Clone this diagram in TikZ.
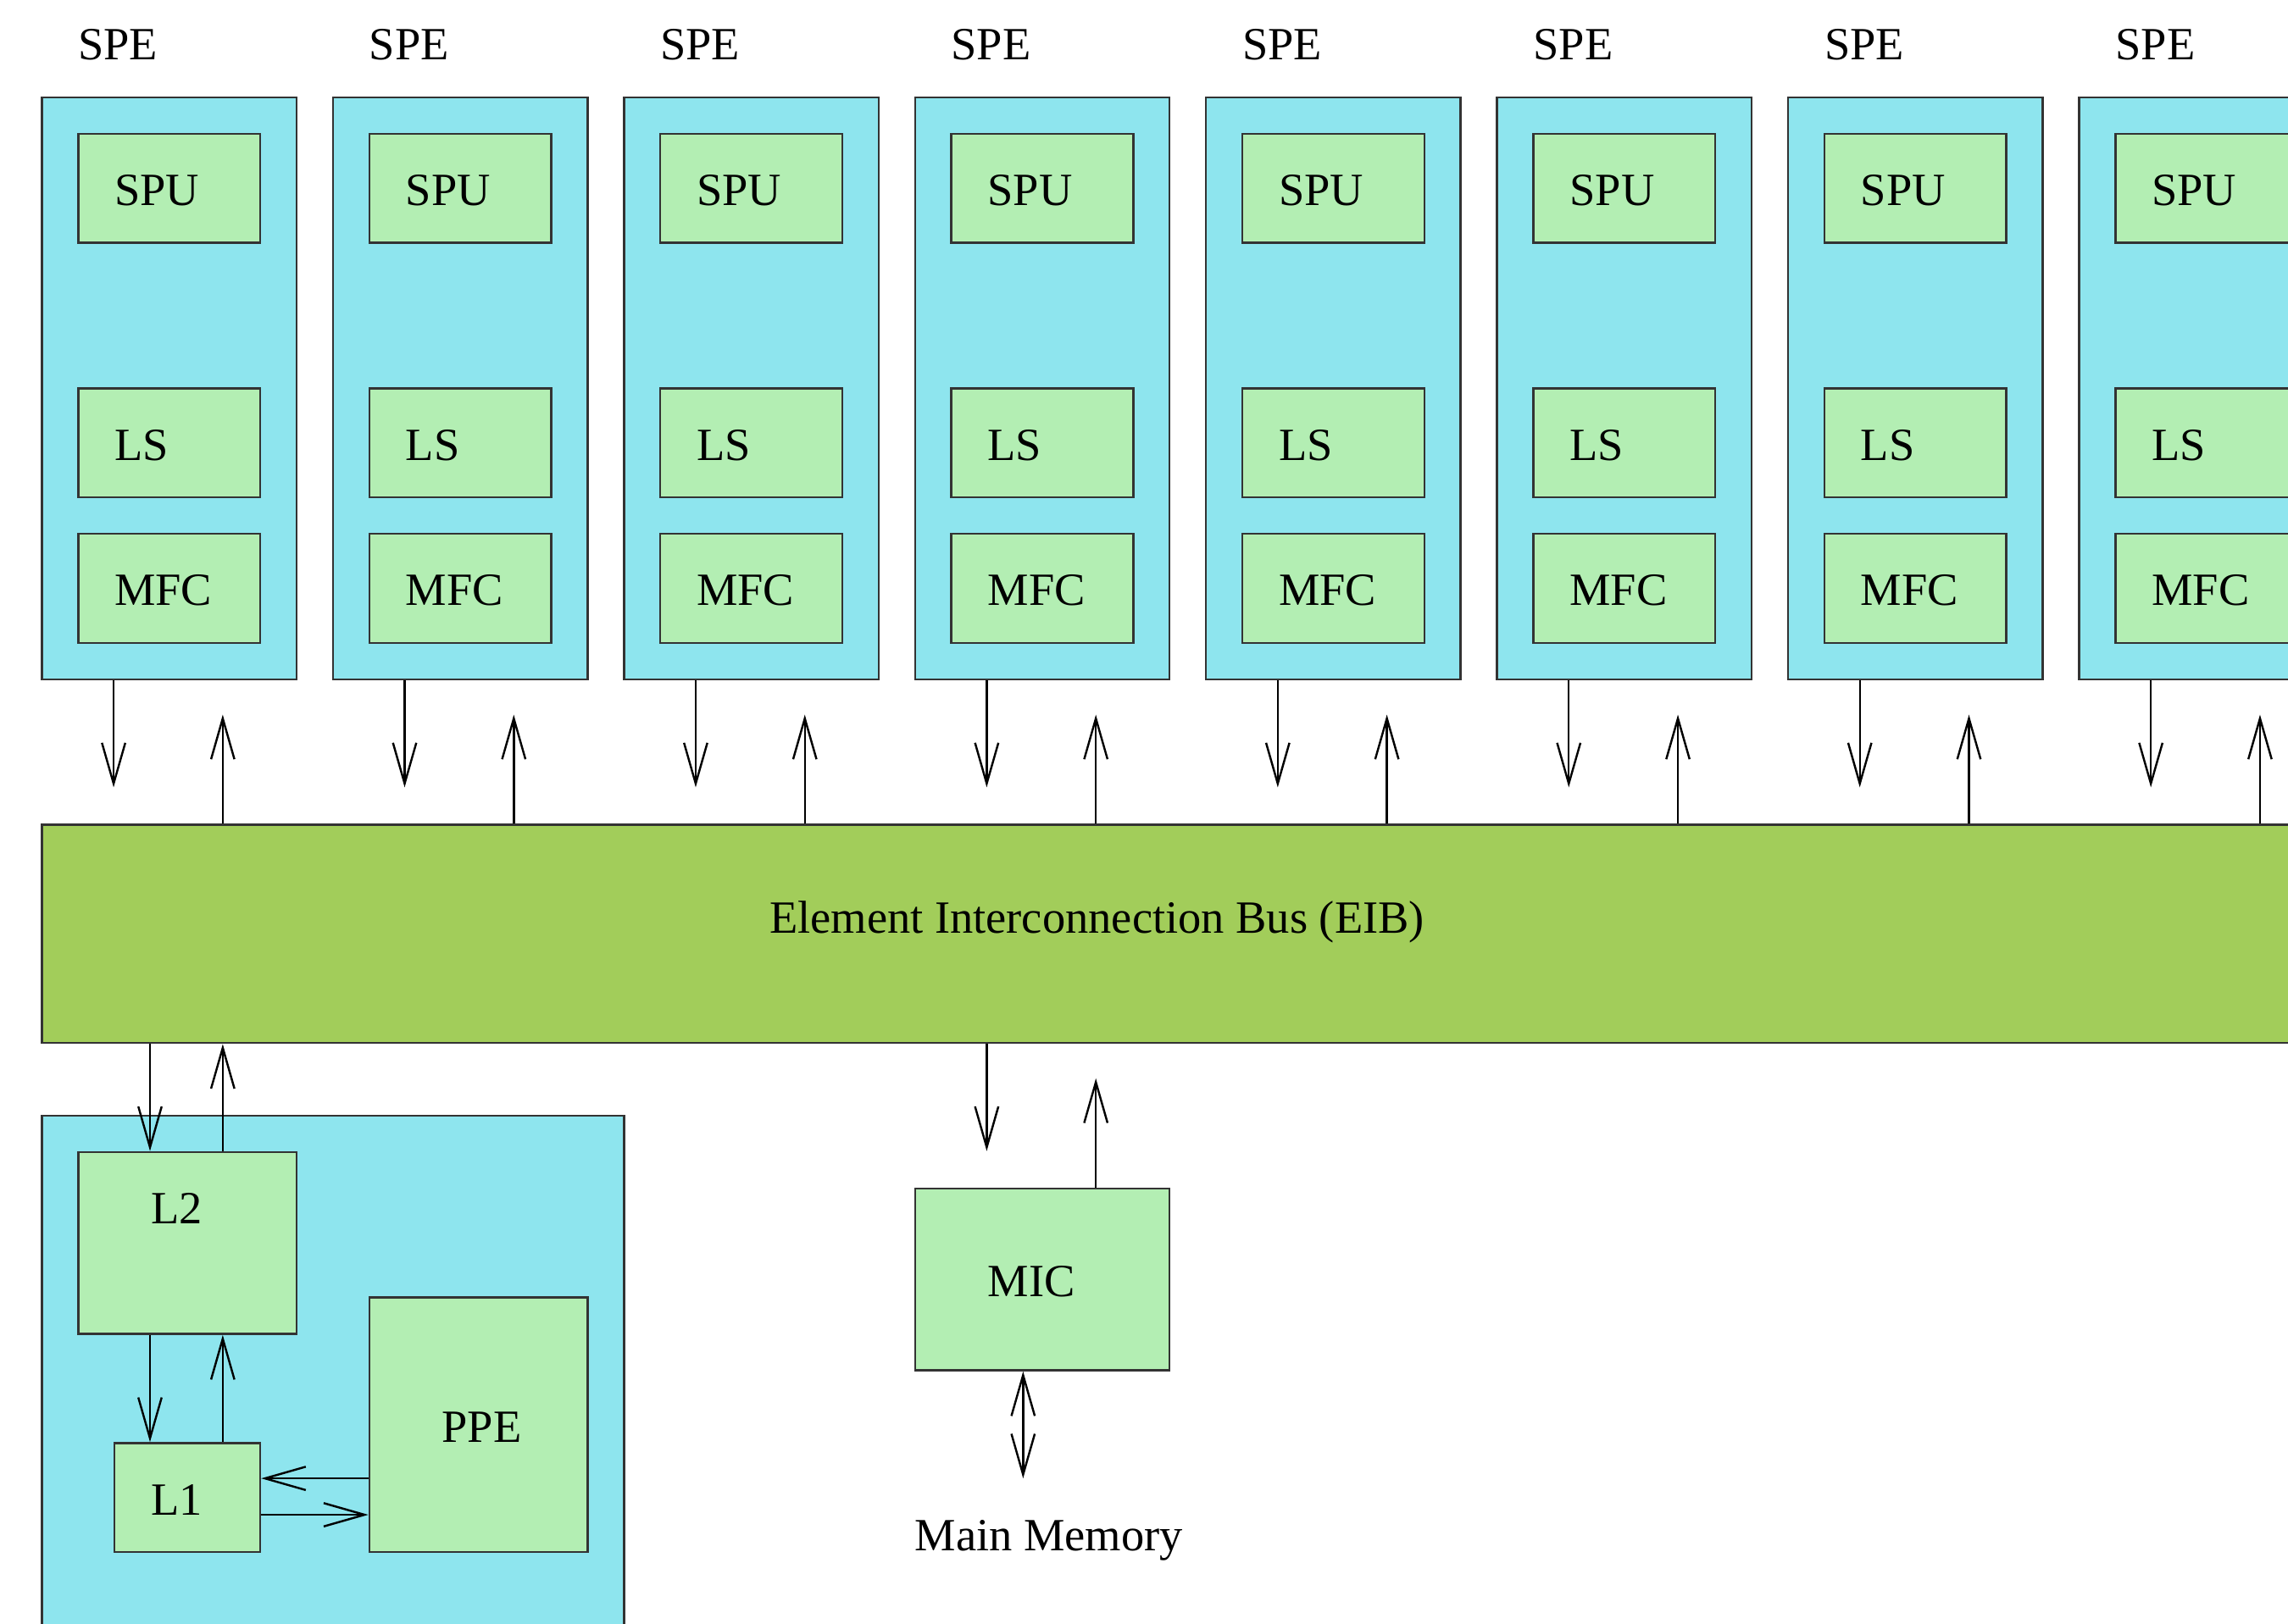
\documentclass[tikz,border=0pt]{standalone}
\usepackage{fontspec}
\setmainfont{Liberation Serif}
\usetikzlibrary{arrows.meta}
\definecolor{speblue}{HTML}{8EE5EE}
\definecolor{unitgreen}{HTML}{B3EEB3}
\definecolor{busgreen}{HTML}{A2CD5A}
\def\gu{0.2493cm}
\tikzset{
  box/.style={draw=black!80, line width=0.4pt, inner sep=0pt, anchor=north west},
  outer/.style={box, fill=speblue},
  unit/.style={box, fill=unitgreen},
  lbl/.style={anchor=base west, inner sep=0pt, font=\fontsize{9}{11}\selectfont},
  arr/.style={-{Straight Barb[length=2.8mm,width=1.6mm]}, line width=0.4pt},
  arrboth/.style={{Straight Barb[length=2.8mm,width=1.6mm]}-{Straight Barb[length=2.8mm,width=1.6mm]}, line width=0.4pt},
}

\begin{document}
\begin{tikzpicture}[x=\gu, y=-\gu]
	\clip (-1.123,-2.65) rectangle (61.77,42.0);
	% Bus
	\node[box, fill=busgreen, minimum width=64*\gu, minimum height=6*\gu] (eib) at (0,20) {};
	\node[lbl] (eiblbl) at (20,23) {Element Interconnection Bus (EIB)};
	% SPE-er
	\foreach \i in {0,...,7}{
		\pgfmathsetmacro\x{8*\i}
		\node[lbl] (spelbl\i) at (\x+1,-1) {SPE};
		\node[outer, minimum width=7*\gu, minimum height=16*\gu] (spe\i) at (\x,0) {};
		\node[unit, minimum width=5*\gu, minimum height=3*\gu] (spu\i) at (\x+1,1) {};
		\node[lbl] (spulbl\i) at (\x+2,3) {SPU};
		\node[unit, minimum width=5*\gu, minimum height=3*\gu] (ls\i) at (\x+1,8) {};
		\node[lbl] (lslbl\i) at (\x+2,10) {LS};
		\node[unit, minimum width=5*\gu, minimum height=3*\gu] (mfc\i) at (\x+1,12) {};
		\node[lbl] (mfclbl\i) at (\x+2,14) {MFC};
		% Til og fra bussen
		\coordinate (dn\i) at (\x+2,19);
		\coordinate (up\i) at (\x+5,17);
		\draw[arr] (spe\i.south -| dn\i) -- (dn\i);
		\draw[arr] (eib.north -| up\i) -- (up\i);
	}
	% PPE-del
	\node[outer, minimum width=16*\gu, minimum height=15*\gu] (ppegrp) at (0,28) {};
	\node[unit, minimum width=6*\gu, minimum height=5*\gu] (l2) at (1,29) {};
	\node[lbl] (l2lbl) at (3,31) {L2};
	\node[unit, minimum width=4*\gu, minimum height=3*\gu] (l1) at (2,37) {};
	\node[lbl] (l1lbl) at (3,39) {L1};
	\node[unit, minimum width=6*\gu, minimum height=7*\gu] (ppe) at (9,33) {};
	\node[lbl] (ppelbl) at (11,37) {PPE};
	% Minnekontroller
	\node[unit, minimum width=7*\gu, minimum height=5*\gu] (mic) at (24,30) {};
	\node[lbl] (miclbl) at (26,33) {MIC};
	\node[lbl] (mem) at (24,40) {Main Memory};
	% Piler i PPE-delen
	\coordinate (c3) at (3,0);
	\coordinate (c5) at (5,0);
	\coordinate (r38) at (0,38);
	\coordinate (r39) at (0,39);
	\draw[arr] (eib.south -| c3) -- (l2.north -| c3);
	\draw[arr] (l2.north -| c5) -- (eib.south -| c5);
	\draw[arr] (l2.south -| c3) -- (l1.north -| c3);
	\draw[arr] (l1.north -| c5) -- (l2.south -| c5);
	\draw[arr] (ppe.west |- r38) -- (l1.east |- r38);
	\draw[arr] (l1.east |- r39) -- (ppe.west |- r39);
	% Piler ved MIC
	\coordinate (micin) at (26,29);
	\coordinate (micout) at (29,27);
	\coordinate (memtop) at (27,38);
	\draw[arr] (eib.south -| micin) -- (micin);
	\draw[arr] (mic.north -| micout) -- (micout);
	\draw[arrboth] (mic.south -| memtop) -- (memtop);
\end{tikzpicture}
\end{document}
